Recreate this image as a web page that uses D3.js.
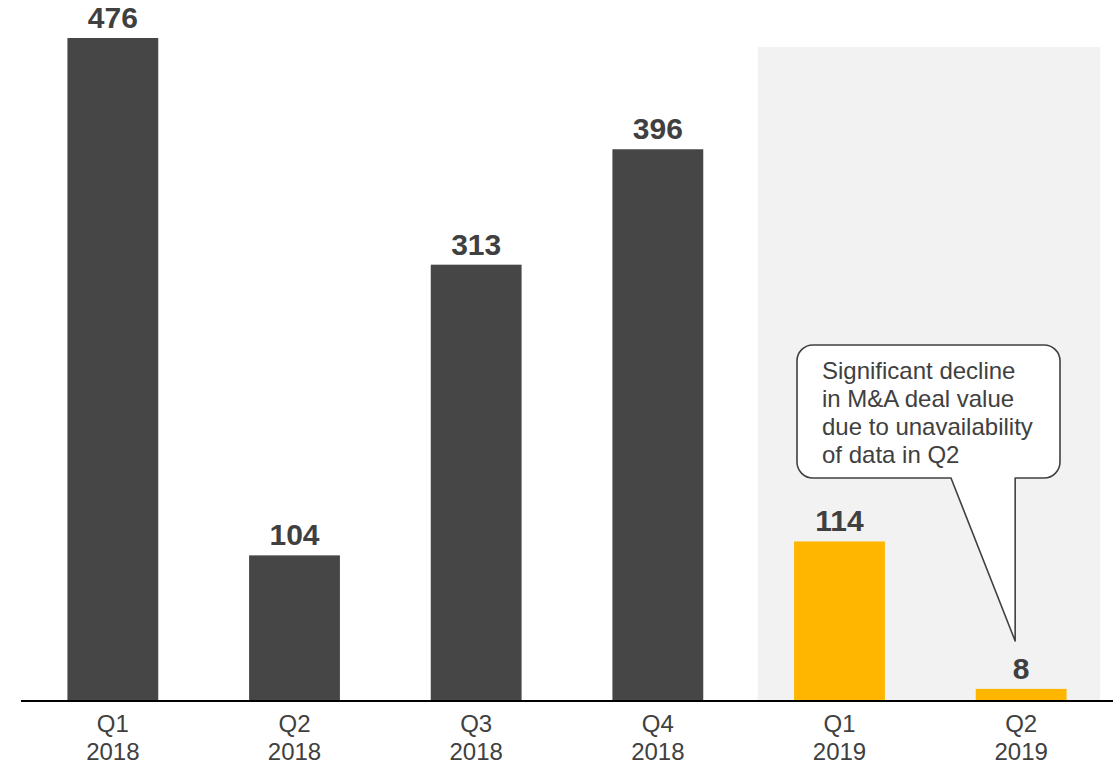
<!DOCTYPE html>
<html>
<head>
<meta charset="utf-8">
<script src="https://cdn.jsdelivr.net/npm/d3@7"></script>
<style>
  html, body { margin: 0; padding: 0; background: #ffffff; }
  svg { display: block; font-family: "Liberation Sans", Arial, sans-serif; }
</style>
</head>
<body>
<svg id="chart" width="1117" height="766"></svg>
<script>
// Quarterly M&A deal value
const quarters = ["Q1", "Q2", "Q3", "Q4", "Q1", "Q2"];
const years = ["2018", "2018", "2018", "2018", "2019", "2019"];
const values = [476, 104, 313, 396, 114, 8];
const highlighted = [false, false, false, false, true, true];
const noteLines = [
  "Significant decline",
  "in M&A deal value",
  "due to unavailability",
  "of data in Q2"
];

const keys = quarters.map((q, i) => q + " " + years[i]);
const data = keys.map((k, i) => ({ key: k, q: quarters[i], yr: years[i], v: values[i], hi: highlighted[i] }));

const svg = d3.select("#chart");
const baseY = 700;

const x = d3.scaleBand()
  .domain(keys)
  .range([22, 1112])
  .paddingInner(0.5)
  .paddingOuter(0.25);

const y = d3.scaleLinear()
  .domain([0, d3.max(values)])
  .range([baseY, 38]);

// Shaded band behind the 2019 quarters
const shadeLeft = x(keys[4]) - 0.2 * x.step();
const shadeRight = x(keys[5]) + x.bandwidth() + 0.185 * x.step();
svg.append("rect")
  .attr("x", shadeLeft)
  .attr("y", 47)
  .attr("width", shadeRight - shadeLeft)
  .attr("height", baseY - 47)
  .attr("fill", "#f2f2f2");

// Bars
svg.append("g").selectAll("rect")
  .data(data)
  .join("rect")
  .attr("x", d => x(d.key))
  .attr("y", d => y(d.v))
  .attr("width", x.bandwidth())
  .attr("height", d => baseY - y(d.v))
  .attr("fill", d => d.hi ? "#ffb600" : "#464646");

// Value labels
svg.append("g").selectAll("text")
  .data(data)
  .join("text")
  .attr("x", d => x(d.key) + x.bandwidth() / 2)
  .attr("y", d => y(d.v) - 10)
  .attr("text-anchor", "middle")
  .attr("font-size", 30)
  .attr("font-weight", "bold")
  .attr("fill", "#404040")
  .text(d => d.v);

// Category axis
const axis = svg.append("g")
  .attr("transform", `translate(0,${baseY + 1})`)
  .call(d3.axisBottom(x).tickSize(0).tickSizeOuter(0).tickFormat(""));
axis.select(".domain")
  .attr("stroke", "#000000")
  .attr("stroke-width", 2)
  .attr("d", `M21,0H1113`);
axis.selectAll(".tick text").remove();
axis.selectAll(".tick").each(function(k, i) {
  const t = d3.select(this).append("text")
    .attr("text-anchor", "middle")
    .attr("font-size", 24)
    .attr("fill", "#404040")
    .attr("font-family", "\"Liberation Sans\", Arial, sans-serif");
  t.append("tspan").attr("x", 0).attr("y", 31).text(data[i].q);
  t.append("tspan").attr("x", 0).attr("y", 59).text(data[i].yr);
});

// Callout note pointing at the last bar
const box = { x0: 797, y0: 345, x1: 1060, y1: 478, r: 16 };
const tipX = x(keys[5]) + x.bandwidth() / 2 - 6;
const tipY = 641;
const tailL = 951, tailR = tipX;
const p = d3.path();
p.moveTo(box.x0 + box.r, box.y0);
p.lineTo(box.x1 - box.r, box.y0);
p.arcTo(box.x1, box.y0, box.x1, box.y0 + box.r, box.r);
p.lineTo(box.x1, box.y1 - box.r);
p.arcTo(box.x1, box.y1, box.x1 - box.r, box.y1, box.r);
p.lineTo(tailR, box.y1);
p.lineTo(tipX, tipY);
p.lineTo(tailL, box.y1);
p.lineTo(box.x0 + box.r, box.y1);
p.arcTo(box.x0, box.y1, box.x0, box.y1 - box.r, box.r);
p.lineTo(box.x0, box.y0 + box.r);
p.arcTo(box.x0, box.y0, box.x0 + box.r, box.y0, box.r);
p.closePath();
svg.append("path")
  .attr("d", p.toString())
  .attr("fill", "#ffffff")
  .attr("stroke", "#404040")
  .attr("stroke-width", 1.6)
  .attr("stroke-linejoin", "round");

svg.append("g").selectAll("text")
  .data(noteLines)
  .join("text")
  .attr("x", 822)
  .attr("y", (d, i) => 379 + i * 28)
  .attr("font-size", 24)
  .attr("fill", "#404040")
  .text(d => d);
</script>
</body>
</html>
